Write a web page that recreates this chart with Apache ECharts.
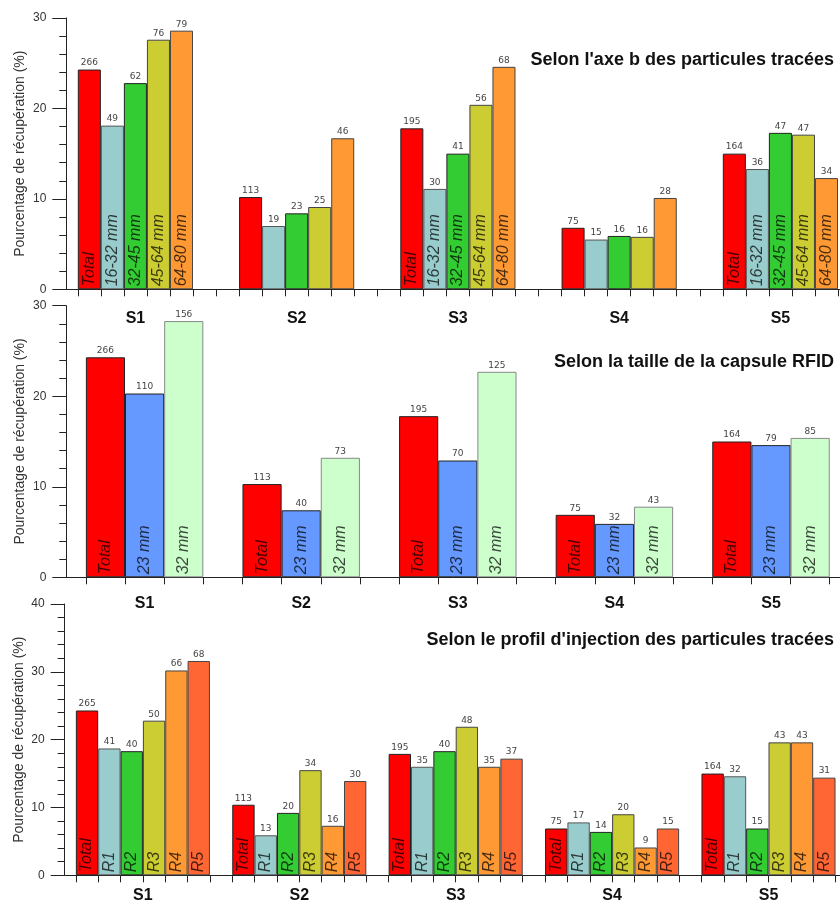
<!DOCTYPE html>
<html>
<head>
<meta charset="utf-8">
<script src="https://cdn.jsdelivr.net/npm/echarts@6/dist/echarts.min.js"></script>
<style>html,body{margin:0;padding:0;background:#fff}#c{width:840px;height:907px}</style>
</head>
<body>
<div id="c"></div>
<script>
// ---------- DATA ----------
const groups = ['S1', 'S2', 'S3', 'S4', 'S5'];
const yAxisName = 'Pourcentage de récupération (%)';

// Panel 1: selon l'axe b
const axeBTitle = "Selon l'axe b des particules tracées";
const axeBClasses = ['Total', '16-32 mm', '32-45 mm', '45-64 mm', '64-80 mm'];
const axeBPct = [
  [24.3, 10.2, 17.8, 6.8, 15.0],
  [18.1, 7.0, 11.1, 5.5, 13.3],
  [22.8, 8.4, 15.0, 5.9, 17.3],
  [27.6, 9.1, 20.4, 5.8, 17.1],
  [28.6, 16.7, 24.6, 10.1, 12.3]
];
const axeBCounts = [
  [266, 113, 195, 75, 164],
  [49, 19, 30, 15, 36],
  [62, 23, 41, 16, 47],
  [76, 25, 56, 16, 47],
  [79, 46, 68, 28, 34]
];
const axeBNamedGroups = [true, false, true, false, true];

// Panel 2: selon la taille de la capsule RFID
const capsuleTitle = 'Selon la taille de la capsule RFID';
const capsuleClasses = ['Total', '23 mm', '32 mm'];
const capsulePct = [
  [24.3, 10.3, 17.8, 6.9, 15.0],
  [20.3, 7.4, 12.9, 5.9, 14.6],
  [28.3, 13.2, 22.7, 7.8, 15.4]
];
const capsuleCounts = [
  [266, 113, 195, 75, 164],
  [110, 40, 70, 32, 79],
  [156, 73, 125, 43, 85]
];
const capsuleNamedGroups = [true, true, true, true, true];

// Panel 3: selon le profil d'injection
const profilTitle = "Selon le profil d'injection des particules tracées";
const profilClasses = ['Total', 'R1', 'R2', 'R3', 'R4', 'R5'];
const profilPct = [
  [24.3, 10.4, 17.9, 6.9, 15.0],
  [18.7, 5.9, 16.0, 7.8, 14.6],
  [18.3, 9.2, 18.3, 6.4, 6.9],
  [22.8, 15.5, 21.9, 9.0, 19.6],
  [30.2, 7.3, 16.0, 4.1, 19.6],
  [31.6, 13.9, 17.2, 6.9, 14.4]
];
const profilCounts = [
  [265, 113, 195, 75, 164],
  [41, 13, 35, 17, 32],
  [40, 20, 40, 14, 15],
  [50, 34, 48, 20, 43],
  [66, 16, 35, 9, 43],
  [68, 30, 37, 15, 31]
];
const profilNamedGroups = [true, true, true, true, true];

// ---------- STYLE / LAYOUT ----------
const F = 'Liberation Sans, Arial, sans-serif';
const panels = [
  {
    title: axeBTitle, classes: axeBClasses, pct: axeBPct, counts: axeBCounts, named: axeBNamedGroups,
    colors: ['#ff0000', '#99cccc', '#33cc33', '#cccc33', '#ff9933'],
    borders: ['#222', '#555', '#222', '#444', '#444'],
    yMax: 30, emptySeries: 1, halfSlots: 14, catGap: '14.2857%',
    grid: { left: 66.3, top: 18, width: 806.25, height: 271.3 },
    titleTop: 46, labelMargin: 21, labelPad: [0, 23, 0, 0]
  },
  {
    title: capsuleTitle, classes: capsuleClasses, pct: capsulePct, counts: capsuleCounts, named: capsuleNamedGroups,
    colors: ['#ff0000', '#6699ff', '#ccffcc'],
    borders: ['#222', '#222', '#888'],
    yMax: 30, emptySeries: 0, halfSlots: 8, catGap: '25%',
    grid: { left: 66.3, top: 305.7, width: 783, height: 271.6 },
    titleTop: 348, labelMargin: 18, labelPad: [0, 0, 0, 0]
  },
  {
    title: profilTitle, classes: profilClasses, pct: profilPct, counts: profilCounts, named: profilNamedGroups,
    colors: ['#ff0000', '#99cccc', '#33cc33', '#cccc33', '#ff9933', '#ff6633'],
    borders: ['#222', '#555', '#222', '#444', '#444', '#444'],
    yMax: 40, emptySeries: 0, halfSlots: 14, catGap: '14.2857%',
    grid: { left: 64.7, top: 604, width: 782, height: 271.3 },
    titleTop: 626, labelMargin: 12, labelPad: [0, 0, 0, 0]
  }
];

const option = { animation: false, backgroundColor: '#fff', title: [], grid: [], xAxis: [], yAxis: [], series: [] };

panels.forEach((p, pi) => {
  option.title.push({
    text: p.title, right: 1, top: p.titleTop,
    textStyle: { fontSize: 18, fontWeight: 'bold', color: '#111', fontFamily: F }
  });
  option.grid.push(Object.assign({ containLabel: false, outerBoundsMode: 'none' }, p.grid));

  const xMain = option.xAxis.length;
  option.xAxis.push({
    gridIndex: pi, type: 'category', position: 'bottom', data: groups,
    axisLine: { show: false }, axisTick: { show: false },
    axisLabel: { fontSize: 16, fontWeight: 'bold', color: '#111', fontFamily: F, margin: p.labelMargin, padding: p.labelPad, interval: 0 }
  });
  // tick axis: half-slot categories, ticks drawn on bar edges
  const half = [];
  groups.forEach(g => { for (let k = 0; k < p.halfSlots; k++) half.push(g + '_' + k); });
  option.xAxis.push({
    gridIndex: pi, type: 'category', position: 'bottom', data: half, boundaryGap: true,
    axisLine: { show: true, onZero: false, lineStyle: { color: '#222', width: 1 } },
    axisTick: { show: true, interval: (i) => i % 2 === 1, length: 7, lineStyle: { color: '#222', width: 1 } },
    axisLabel: { show: false }, splitLine: { show: false }
  });
  option.yAxis.push({
    gridIndex: pi, type: 'value', min: 0, max: p.yMax, interval: 10,
    name: yAxisName, nameLocation: 'middle', nameGap: 39, nameMoveOverlap: false,
    nameTextStyle: { fontSize: 14, color: '#333', fontFamily: F },
    axisLine: { show: true, lineStyle: { color: '#222', width: 1 } },
    axisTick: { show: true, length: 14, lineStyle: { color: '#222', width: 1 } },
    minorTick: { show: true, splitNumber: 5, length: 7, lineStyle: { color: '#222', width: 1 } },
    splitLine: { show: false }, minorSplitLine: { show: false },
    axisLabel: { fontSize: 12, color: '#333', fontFamily: F, margin: 20 }
  });

  p.classes.forEach((cls, ci) => {
    const stack = 'p' + pi + 'c' + ci;
    option.series.push({
      type: 'bar', name: cls, xAxisIndex: xMain, yAxisIndex: pi, stack: stack, stackStrategy: 'all',
      barGap: '0%', barCategoryGap: p.catGap, silent: true,
      itemStyle: { color: p.colors[ci], borderColor: p.borders[ci], borderWidth: 1 },
      label: {
        show: true, position: 'insideBottom', rotate: 90, align: 'left', verticalAlign: 'middle',
        distance: 3, formatter: cls, fontSize: 16, fontStyle: 'italic', fontFamily: F,
        color: 'rgba(0,0,0,0.72)'
      },
      data: p.pct[ci].map((v, g) => ({ value: v, label: { show: p.named[g] } }))
    });
    option.series.push({
      type: 'bar', name: cls + ' n', xAxisIndex: xMain, yAxisIndex: pi, stack: stack, stackStrategy: 'all',
      barGap: '0%', barCategoryGap: p.catGap, silent: true,
      itemStyle: { color: 'transparent', borderWidth: 0 },
      label: {
        show: true, position: 'top', distance: 2, fontSize: 9, color: '#444', fontFamily: 'DejaVu Sans',
        formatter: (prm) => String(p.counts[ci][prm.dataIndex])
      },
      data: groups.map(() => 0)
    });
  });
  for (let e = 0; e < p.emptySeries; e++) {
    option.series.push({
      type: 'bar', name: 'empty' + e, xAxisIndex: xMain, yAxisIndex: pi,
      barGap: '0%', barCategoryGap: p.catGap, silent: true,
      data: groups.map(() => '-')
    });
  }
});

const chart = echarts.init(document.getElementById('c'), null, { renderer: 'canvas' });
chart.setOption(option);
</script>
</body>
</html>
